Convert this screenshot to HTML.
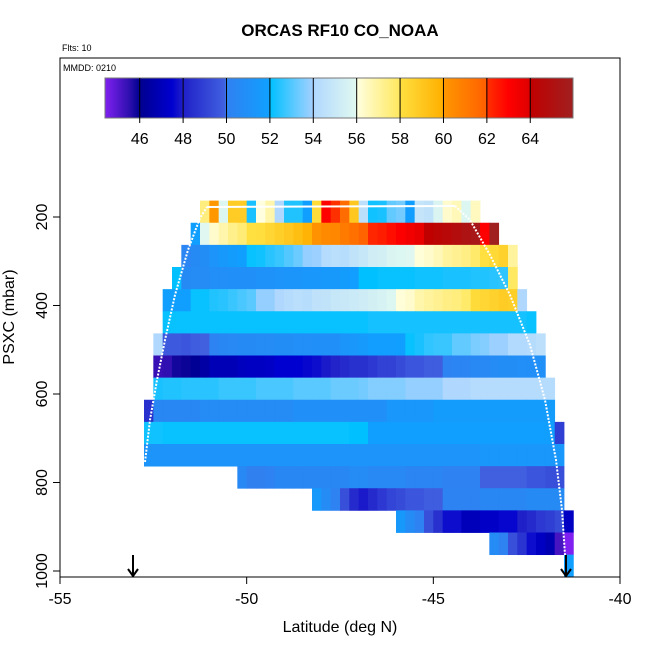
<!DOCTYPE html>
<html><head><meta charset="utf-8">
<style>
body{margin:0;background:#fff;}
svg text{font-family:"Liberation Sans",Arial,sans-serif;}
</style></head>
<body>
<svg id="chart" width="650" height="650" viewBox="0 0 650 650" xmlns="http://www.w3.org/2000/svg">
<rect width="650" height="650" fill="#fff"/>
<text x="340" y="36" font-size="17" font-weight="bold" text-anchor="middle">ORCAS RF10 CO_NOAA</text>
<text x="62" y="51" font-size="9">Flts: 10</text>
<text x="63" y="71" font-size="9">MMDD: 0210</text>
<g id="cells"></g>
<g id="colorbar"></g>
<path id="track" fill="none" stroke="#fff" stroke-width="2" stroke-dasharray="2 1.5" d="M145,462 L150,420 L157,380 L165,340 L175,295 L188,250 L200,218 L207,207"/>
<path fill="none" stroke="#fff" stroke-width="2" d="M207,207 L455,206"/>
<path fill="none" stroke="#fff" stroke-width="2" stroke-dasharray="2 1.5" d="M455,206 L470,220 L490,255 L510,295 L530,345 L545,400 L556,460 L562,510 L565,555"/>
<rect x="60" y="58" width="560" height="519" fill="none" stroke="#000" stroke-width="1"/>
<g id="axes"></g>
<g stroke="#000" stroke-width="2" fill="none"><line x1="133" y1="555" x2="133" y2="576"/><polyline points="128,569 133,576 138,569"/></g>
<g stroke="#000" stroke-width="2" fill="none"><line x1="566" y1="555" x2="566" y2="576"/><polyline points="561,569 566,576 571,569"/></g>
<text x="340" y="632" font-size="16" text-anchor="middle">Latitude (deg N)</text>
<text x="0" y="0" font-size="16" text-anchor="middle" transform="translate(14,317) rotate(-90)">PSXC (mbar)</text>
</svg>
<script>
const xTicks=[-55,-50,-45,-40];
const yTicks=[200,400,600,800,1000];
const cbTicks=[46,48,50,52,54,56,58,60,62,64];
const rowPressures=[188,238,288,338,388,438,488,538,588,638,688,738,788,838,888,938,988];
const rowStarts=[-51.25,-51.5,-51.75,-52,-52.25,-52.25,-52.5,-52.5,-52.5,-52.75,-52.75,-52.75,-50.25,-48.25,-46,-43.5,-41.5];
const row0=[57.5,60,55.8,58.8,58.8,52.3,56,56.8,54,52.4,52.4,51.9,58.2,63,62,61.5,59,54.5,52.2,52.3,53.2,53.4,51.8,54.8,54.6,55.7,56.3,56.6,55.8,56.5];
const row1=[51.9,55.9,56.3,56.8,57.3,57.6,58,58.1,58.4,58.7,59,59.4,59.8,60.2,60.5,60.6,61,61.4,61.8,62.2,62.4,62.7,63.1,63.4,63.7,64,64.3,64.5,64.8,65.2,65.5,63,66];
const row2=[50.3,50.6,50.8,51.2,51.5,51.7,51.9,52.1,52.2,52.5,52.7,53,53.3,53.8,53.9,54.2,54.4,54.3,54.7,54.9,55.3,55.4,55.7,55.8,55.9,56.1,56.3,56.6,57,57.2,57.4,57.8,58,58.3,58.6,57];
const row3=[52,50.6,50.7,50.7,50.9,50.9,51,51,51,51.1,51.1,51.2,51.3,51.3,51.4,51.4,51.5,51.5,51.7,51.8,52,52,52.1,52.1,52.1,52.1,52.2,52.2,52.2,52.3,52.3,52.3,52.4,52.4,52.5,52.6,57.9];
const row4=[51.9,51.9,51.9,52.1,52.1,52.4,52.5,52.7,52.9,53.1,53.8,53.8,54,54.2,54.4,54.3,54.6,54.7,54.9,55,55.1,55.2,55.4,55.6,55.8,56.1,56.3,56.8,57,57.2,57.4,57.5,57.8,58.2,58.4,58.6,58.8,58.7,54];
const row5=[52.1,52.1,52.1,52.1,52.1,52.1,52.1,52.1,52.1,52.1,52.1,52.1,52.1,52.1,52.1,52.1,52.1,52.1,52.1,52.1,52.1,52.1,52.25,52.25,52.25,52.25,52.25,52.25,52.25,52.25,52.25,52.25,52.25,52.25,52.25,52.25,52.25,52.25,52.25,52.1];
const row6=[54,49.7,49.7,49.6,49.8,49.9,50.2,50.4,50.5,50.6,50.6,50.7,50.7,50.8,50.8,50.9,50.9,51,51,51,51.3,51.4,51.6,51.8,51.8,51.8,51.9,52.1,52.3,52.6,52.7,52.7,53.2,53.2,53.5,53.6,53.9,53.9,54.1,54.1,54.2,54.5];
const row7=[45.4,45.5,45.8,45.9,46.1,46.5,46.9,46.9,46.9,47.1,47.2,47.2,47.3,47.5,47.5,47.5,47.6,47.7,47.9,48.1,48.3,48.5,48.5,48.7,49,49,49.3,49.6,49.6,49.8,49.8,50.2,50.3,50.3,50.5,50.5,50.7,50.8,50.8,50.9,50.9,51];
const row8=[52.3,52.4,52.4,52.5,52.5,52.5,52.5,52.7,52.7,52.7,52.7,52.9,52.9,52.9,52.9,53.1,53.1,53.1,53.1,53.3,53.3,53.3,53.4,53.6,53.6,53.6,53.6,53.8,53.8,53.8,53.8,54,54,54,54.2,54.2,54.2,54.2,54.2,54.2,54.2,54.2,54.2];
const row9=[48.5,50.4,50.4,50.4,50.4,50.4,50.7,50.7,50.7,50.7,50.7,50.7,50.7,50.7,50.7,50.7,51,51,51,51,51,51,51,51,51,51,51.4,51.4,51.4,51.4,51.4,51.7,51.7,51.7,51.7,51.7,51.7,51.7,51.7,51.7,51.7,51.7,51.7,51.7];
const row10=[52.2,52.2,52.1,52.1,52.1,52.1,52.1,52.1,52.1,52.1,52.1,52.1,52.1,52.1,52.1,52.1,52.1,52.1,52.1,52.1,52.1,52.1,52,52,51.9,51.9,51.9,51.9,51.9,51.9,51.9,51.9,51.9,51.9,51.9,51.9,51.9,51.9,51.9,51.9,51.9,51.9,51.9,51.9,48.9];
const row11=[51.2,51.2,51.2,51.2,51.2,51.2,51.2,51.2,51.2,51.2,51.2,51.2,51.2,51.2,51.2,51.2,51.2,51.2,51.2,51.2,51.2,51.2,51.2,51.2,51.2,51.2,51.2,51.2,51.2,51.2,51.2,51.2,51.2,51.2,51.2,51.2,51.4,51.4,51.4,51.4,51.4,51.4,51.4,51.4,51.4];
const row12=[50.5,50,50,50.1,50.4,50.4,50.4,50.4,50.4,50.4,50.4,50.4,50.7,50.7,50.5,50.5,50.5,50.5,50.3,50.3,50.3,50.3,50.1,50.1,50.1,50.1,49.9,49.9,49.9,49.9,49.9,49.6,49.6,49.4,49.4];
const row13=[51.5,50.7,50.1,49.4,48.3,47.9,48.3,48.7,49.1,49.3,49.6,49.6,49.8,49.8,50.2,50.2,50.2,50.2,50.4,50.4,50.4,50.4,50.4,50.6,50.6,50.6,50.6];
const row14=[51.5,50.7,50.1,49.4,48.5,47.7,47.7,47,47,47.3,47.3,47.6,47.6,48,48.3,48.7,48.9,49.3,47.2];
const row15=[50.7,50.1,49.4,48.6,47.7,47.2,46.8,45.2,44.4];
const row16=[51.9];
const rows=[row0,row1,row2,row3,row4,row5,row6,row7,row8,row9,row10,row11,row12,row13,row14,row15,row16];

const NS='http://www.w3.org/2000/svg';
const X0=60,X1=620,LAT0=-55,LAT1=-40;
function xScale(lat){return X0+(lat-LAT0)*(X1-X0)/(LAT1-LAT0);}
function yScale(p){return 217+(p-200)*(571-217)/800;}
const CB_X0=105,CB_X1=573,CB_V0=44.4,CB_V1=65.97;
function cbScale(v){return CB_X0+(v-CB_V0)*(CB_X1-CB_X0)/(CB_V1-CB_V0);}
const stops=[[44.4,[128,32,240]],[45.5,[48,16,176]],[46,[0,0,144]],[47.5,[0,0,208]],[48,[32,32,200]],[49.9,[64,96,224]],[50,[48,128,240]],[51.95,[16,160,255]],[52,[0,192,255]],[53.95,[160,208,255]],[54,[176,216,255]],[55.95,[224,248,240]],[56,[255,255,224]],[57.95,[255,232,96]],[58,[255,224,64]],[59.95,[255,176,0]],[60,[255,152,0]],[61.95,[255,96,0]],[62,[255,48,0]],[63,[255,0,0]],[63.95,[224,0,0]],[64,[192,0,0]],[66,[160,32,32]]];
function color(v){
  if(v<=stops[0][0])return 'rgb('+stops[0][1]+')';
  for(let i=1;i<stops.length;i++){
    if(v<=stops[i][0]){const a=stops[i-1],b=stops[i];const t=(v-a[0])/(b[0]-a[0]);
      const c=a[1].map((q,j)=>Math.round(q+(b[1][j]-q)*t));return 'rgb('+c.join(',')+')';}
  }
  return 'rgb('+stops[stops.length-1][1]+')';
}
function mk(tag,attrs,parent){const e=document.createElementNS(NS,tag);for(const k in attrs)e.setAttribute(k,attrs[k]);parent.appendChild(e);return e;}

const cells=document.getElementById('cells');
const DLAT=0.25,DP=50;
rows.forEach((vals,r)=>{
  const p=rowPressures[r];
  const yT=yScale(p-DP/2),yB=yScale(p+DP/2);
  vals.forEach((v,i)=>{
    const lat=rowStarts[r]+i*DLAT;
    const xa=xScale(lat),xb=xScale(lat+DLAT);
    const c=mk('rect',{x:xa.toFixed(2),y:yT.toFixed(2),width:(xb-xa+0.4).toFixed(2),height:(yB-yT+0.4).toFixed(2),fill:color(v)},cells);
    
    
  });
});

const cb=document.getElementById('colorbar');
for(let px=CB_X0;px<CB_X1;px++){
  const v=CB_V0+(px+0.5-CB_X0)*(CB_V1-CB_V0)/(CB_X1-CB_X0);
  const s=mk('rect',{x:px,y:78,width:1.3,height:40,fill:color(v)},cb);
  
  
}
const cbf=mk('rect',{x:CB_X0,y:78,width:CB_X1-CB_X0,height:40,fill:'none',stroke:'#777','stroke-width':1},cb);


cbTicks.forEach(t=>{
  const x=cbScale(t);
  const l=mk('line',{x1:x,x2:x,y1:78,y2:123,stroke:'#000','stroke-width':1},cb);
  
  
  const tx=mk('text',{x:x,y:144,'font-size':16,'text-anchor':'middle'},cb);
  tx.textContent=t;
  
  
});

const axes=document.getElementById('axes');
xTicks.forEach(t=>{
  const x=xScale(t);
  const l=mk('line',{x1:x,x2:x,y1:577,y2:584,stroke:'#000'},axes);
  
  
  const tx=mk('text',{x:x,y:604,'font-size':16,'text-anchor':'middle'},axes);
  tx.textContent=t;
  
  
});
yTicks.forEach(t=>{
  const y=yScale(t);
  const l=mk('line',{x1:53,x2:60,y1:y,y2:y,stroke:'#000'},axes);
  
  
  const tx=mk('text',{x:0,y:0,'font-size':16,'text-anchor':'middle',transform:'translate(47,'+y+') rotate(-90)'},axes);
  tx.textContent=t;
  
  
});
</script>
</body></html>
